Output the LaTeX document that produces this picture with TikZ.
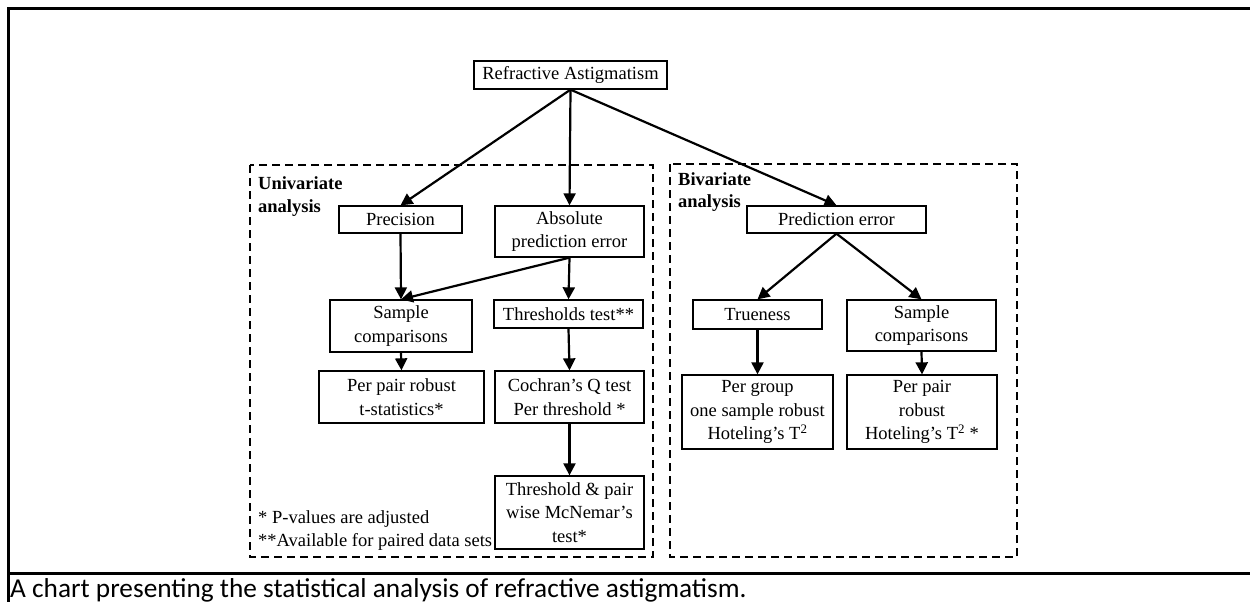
\documentclass[tikz,border=0pt]{standalone}
\usepackage{fontspec}
\setmainfont{Liberation Serif}
\newfontfamily\captionfont{Carlito}
\usetikzlibrary{arrows.meta}

\begin{document}
\begin{tikzpicture}[x=1pt,y=-1pt,
    box/.style ={rectangle, draw, line width=1.3pt, align=center, inner sep=0pt,
                 font=\fontsize{18.5}{23.5}\selectfont},
    note/.style ={align=left, inner sep=0pt, anchor=north west,
                 font=\fontsize{18.5}{22.5}\selectfont},
    link/.style ={line width=2.2pt, -{Triangle[length=12pt,width=12pt]}},
    group/.style ={line width=1.3pt, dash pattern=on 8pt off 5pt}]
   \useasboundingbox (0,0) rectangle (1250,602);

   % frame and caption
   \draw[line width=3pt] (1250,9) -- (8,9) -- (8,602);
   \draw[line width=3pt] (8,573) -- (1250,573);
   \node[anchor=base west, inner sep=0pt,
         font=\captionfont\fontsize{27.3}{32}\selectfont] (T) at (10,597)
         {A chart presenting the statistical analysis of refractive astigmatism.};

   % dashed groups
   \draw[group] (250,165) rectangle (653,557);
   \draw[group] (670,164) rectangle (1017,557);
   \node[note, font=\bfseries\fontsize{18.5}{23}\selectfont] (U) at (258,176) {Univariate\\analysis};
   \node[note, font=\bfseries\fontsize{18.5}{22}\selectfont] (V) at (678,172) {Bivariate\\analysis};
   \node[note] (N) at (258,510.5) {* P-values are adjusted\\**Available for paired data sets};

   \node[box, minimum width=193pt, minimum height=28pt] (A) at (570.5,75) {Refractive Astigmatism};
   \node[box, minimum width=123pt, minimum height=27pt] (B) at (400.5,219.5) {Precision};
   \node[box, minimum width=149pt, minimum height=51pt] (C) at (569.5,231.5) {Absolute\\prediction error};
   \node[box, minimum width=179pt, minimum height=27pt] (D) at (836.5,219.5) {Prediction error};
   \node[box, minimum width=142pt, minimum height=52pt] (E) at (401,326) {Sample\\comparisons};
   \node[box, minimum width=149pt, minimum height=28pt] (F) at (568.5,314) {Thresholds test**};
   \node[box, minimum width=165pt, minimum height=52pt] (G) at (401.5,397) {Per pair robust\\t-statistics*};
   \node[box, minimum width=149pt, minimum height=52pt] (H) at (569.5,397) {Cochran's Q test\\Per threshold *};
   \node[box, minimum width=149pt, minimum height=73pt] (I) at (569.5,512.5) {Threshold \& pair\\wise McNemar's\\test*};
   \node[box, minimum width=129pt, minimum height=29pt] (J) at (757.5,314.5) {Trueness};
   \node[box, minimum width=149pt, minimum height=51pt] (K) at (921.5,325.5) {Sample\\comparisons};
   \node[box, minimum width=151pt, minimum height=74pt] (L) at (757.5,412) {Per group\\one sample robust\\Hoteling's T\textsuperscript{2}};
   \node[box, minimum width=150pt, minimum height=74pt] (M) at (922,412) {Per pair\\robust\\Hoteling's T\textsuperscript{2} *};

   \draw[link] (A.south) to (B.north);
   \draw[link] (A.south) to (C.north);
   \draw[link] (A.south) to (D.north);
   \draw[link] (B.south) to (E.north);
   \draw[link] (C.south) to (E.north);
   \draw[link] (C.south) to (F.north);
   \draw[link] (E.south) to (G.north);
   \draw[link] (F.south) to (H.north);
   \draw[link] (H.south) to (I.north);
   \draw[link] (D.south) to (J.north);
   \draw[link] (D.south) to (K.north);
   \draw[link] (J.south) to (L.north);
   \draw[link] (K.south) to (M.north);
 \end{tikzpicture}
\end{document}
